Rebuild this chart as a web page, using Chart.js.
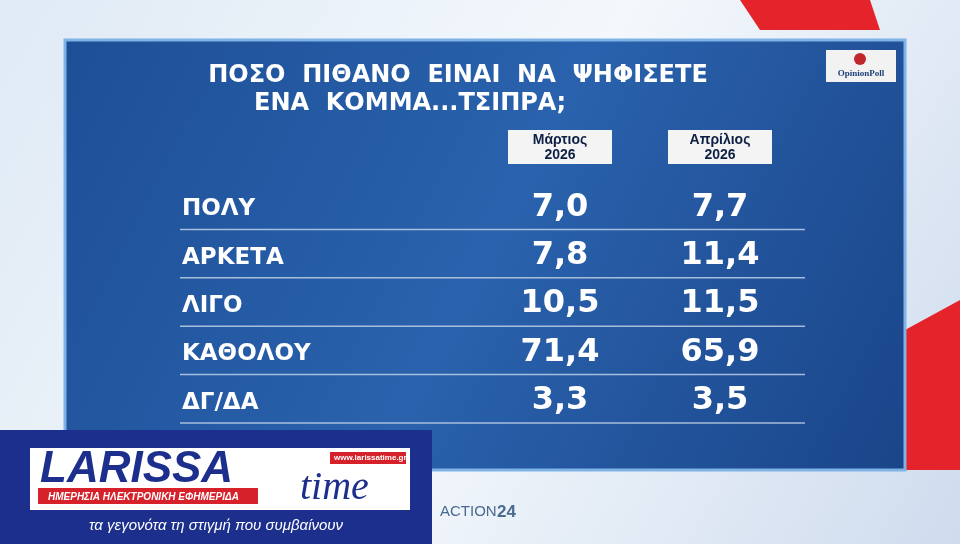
<!DOCTYPE html>
<html><head><meta charset="utf-8">
<script src="https://cdn.jsdelivr.net/npm/chart.js@4/dist/chart.umd.min.js"></script>
<style>html,body{margin:0;padding:0;background:#fff}canvas{display:block}</style>
</head><body>
<canvas id="c" width="960" height="544"></canvas>
<script>
const rows = ['ΠΟΛΥ', 'ΑΡΚΕΤΑ', 'ΛΙΓΟ', 'ΚΑΘΟΛΟΥ', 'ΔΓ/ΔΑ'];
const columns = ['Μάρτιος 2026', 'Απρίλιος 2026'];
const march = [7.0, 7.8, 10.5, 71.4, 3.3];
const april = [7.7, 11.4, 11.5, 65.9, 3.5];
const titleLines = ['ΠΟΣΟ  ΠΙΘΑΝΟ  ΕΙΝΑΙ  ΝΑ  ΨΗΦΙΣΕΤΕ', 'ΕΝΑ  ΚΟΜΜΑ...ΤΣΙΠΡΑ;'];

const fmt = v => v.toFixed(1).replace('.', ',');
const points = [];
[march, april].forEach((arr, ci) => arr.forEach((v, ri) => points.push({ x: columns[ci], y: rows[ri], v })));

const tablePlugin = {
  id: 'table',
  beforeDraw(chart) {
    const c = chart.ctx;
    c.save();
    let g = c.createLinearGradient(0, 0, 960, 544);
    g.addColorStop(0, '#dfeaf5'); g.addColorStop(0.5, '#f4f8fc'); g.addColorStop(1, '#cfdcee');
    c.fillStyle = g; c.fillRect(0, 0, 960, 544);
    c.fillStyle = '#e5232b';
    c.beginPath(); c.moveTo(740, 0); c.lineTo(870, 0); c.lineTo(880, 30); c.lineTo(760, 30); c.fill();
    c.beginPath(); c.moveTo(905, 330); c.lineTo(960, 300); c.lineTo(960, 470); c.lineTo(905, 470); c.fill();
    // panel
    g = c.createLinearGradient(65, 40, 905, 470);
    g.addColorStop(0, '#1d4f97'); g.addColorStop(0.5, '#2a62ad'); g.addColorStop(1, '#1a4589');
    c.fillStyle = g; c.fillRect(65, 40, 840, 430);
    c.strokeStyle = '#7fb3e6'; c.lineWidth = 3; c.strokeRect(65, 40, 840, 430);
    // title
    c.fillStyle = '#fff'; c.textAlign = 'center'; c.textBaseline = 'middle';
    c.font = 'bold 24px "DejaVu Sans"';
    c.fillText(titleLines[0], 458, 76); c.fillText(titleLines[1], 410, 104);
    // logo
    c.fillStyle = '#f2f2f2'; c.fillRect(826, 50, 70, 32);
    c.fillStyle = '#c0272d'; c.beginPath(); c.arc(860, 59, 6, 0, Math.PI * 2); c.fill();
    c.fillStyle = '#1d3f7a'; c.font = 'bold 9px "Liberation Serif"'; c.fillText('OpinionPoll', 861, 74);
    c.restore();
  },
  afterDatasetsDraw(chart) {
    const c = chart.ctx, xs = chart.scales.x, ys = chart.scales.y, a = chart.chartArea;
    c.save();
    // column headers
    columns.forEach((col, i) => {
      const x = xs.getPixelForValue(i);
      c.fillStyle = '#f4f4f4'; c.fillRect(x - 52, 130, 104, 34);
      c.fillStyle = '#0d1f45'; c.textAlign = 'center'; c.textBaseline = 'middle';
      c.font = 'bold 14px "Liberation Sans"';
      const parts = col.split(' ');
      c.fillText(parts[0], x, 140); c.fillText(parts[1], x, 155);
    });
    const step = ys.getPixelForValue(1) - ys.getPixelForValue(0);
    rows.forEach((r, i) => {
      const y = ys.getPixelForValue(i);
      c.fillStyle = '#fff'; c.textAlign = 'left'; c.textBaseline = 'middle';
      c.font = 'bold 23px "DejaVu Sans"';
      c.fillText(r, 182, y + 2);
      c.strokeStyle = 'rgba(200,215,235,0.8)'; c.lineWidth = 1.5;
      c.beginPath(); c.moveTo(180, y + step / 2 - 2); c.lineTo(a.right + 5, y + step / 2 - 2); c.stroke();
    });
    c.font = 'bold 32px "DejaVu Sans"'; c.textAlign = 'center'; c.fillStyle = '#fff';
    chart.data.datasets[0].data.forEach(p => {
      c.fillText(fmt(p.v), xs.getPixelForValue(columns.indexOf(p.x)), ys.getPixelForValue(rows.indexOf(p.y)));
    });
    // bottom banner
    c.fillStyle = '#1c2f8c'; c.fillRect(0, 430, 432, 114);
    c.fillStyle = '#fff'; c.fillRect(30, 448, 380, 62);
    c.fillStyle = '#1c2f8c'; c.font = 'italic bold 44px "Liberation Sans"'; c.textAlign = 'left';
    c.fillText('LARISSA', 40, 470);
    c.font = 'italic 40px "Liberation Serif"'; c.fillText('time', 300, 488);
    c.fillStyle = '#d6202a'; c.fillRect(38, 488, 220, 16);
    c.fillStyle = '#fff'; c.font = 'italic bold 10px "Liberation Sans"';
    c.fillText('ΗΜΕΡΗΣΙΑ ΗΛΕΚΤΡΟΝΙΚΗ ΕΦΗΜΕΡΙΔΑ', 48, 497);
    c.fillStyle = '#d6202a'; c.fillRect(330, 452, 76, 12);
    c.fillStyle = '#fff'; c.font = 'bold 8px "Liberation Sans"'; c.fillText('www.larissatime.gr', 334, 458);
    c.font = 'italic 15px "Liberation Sans"'; c.textAlign = 'center';
    c.fillText('τα γεγονότα τη στιγμή που συμβαίνουν', 216, 526);
    c.fillStyle = '#4a6b8f'; c.font = '15px "Liberation Sans"'; c.textAlign = 'left';
    c.fillText('ACTION', 440, 512);
    c.font = 'bold 17px "Liberation Sans"'; c.fillText('24', 497, 512);
    c.restore();
  }
};

new Chart(document.getElementById('c'), {
  type: 'scatter',
  data: { datasets: [{ data: points, pointRadius: 0 }] },
  options: {
    responsive: false, animation: false, events: [],
    layout: { padding: { left: 480, right: 160, top: 183, bottom: 119 } },
    plugins: { legend: { display: false }, tooltip: { enabled: false } },
    scales: {
      x: { type: 'category', labels: columns, offset: true, display: false },
      y: { type: 'category', labels: rows, offset: true, display: false }
    }
  },
  plugins: [tablePlugin]
});
</script>
</body></html>
